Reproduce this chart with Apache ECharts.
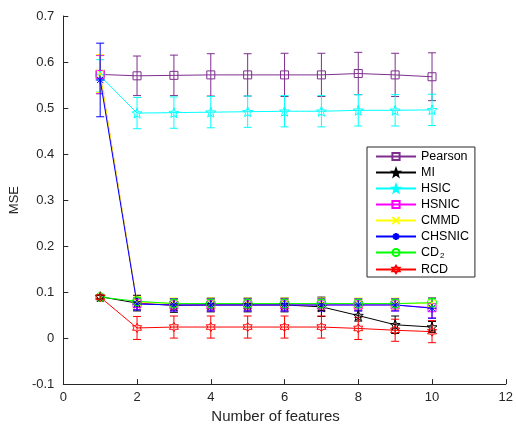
<!DOCTYPE html>
<html><head><meta charset="utf-8">
<script src="https://cdn.jsdelivr.net/npm/echarts@6/dist/echarts.min.js"></script>
<style>html,body{margin:0;padding:0;background:#fff}#c{width:516px;height:429px}</style>
</head><body><div id="c"></div>
<script>
// ---- data ----
const xs = [1, 2, 3, 4, 5, 6, 7, 8, 9, 10];
const names = ['Pearson', 'MI', 'HSIC', 'HSNIC', 'CMMD', 'CHSNIC', 'CD2', 'RCD'];
const pearson    = [0.573, 0.570, 0.571, 0.572, 0.572, 0.572, 0.572, 0.575, 0.572, 0.568];
const pearsonErr = [0.042, 0.043, 0.044, 0.046, 0.046, 0.047, 0.047, 0.046, 0.047, 0.052];
const mi         = [0.090, 0.076, 0.071, 0.072, 0.072, 0.072, 0.068, 0.049, 0.029, 0.024];
const miErr      = [0.004, 0.017, 0.015, 0.015, 0.015, 0.015, 0.021, 0.012, 0.019, 0.012];
const hsic       = [0.570, 0.489, 0.490, 0.491, 0.492, 0.493, 0.493, 0.495, 0.495, 0.496];
const hsicErr    = [0.035, 0.034, 0.034, 0.034, 0.034, 0.034, 0.034, 0.034, 0.034, 0.034];
const hsnic      = [0.573, 0.075, 0.072, 0.072, 0.072, 0.072, 0.072, 0.072, 0.072, 0.066];
const hsnicErr   = [0.041, 0.013, 0.013, 0.013, 0.013, 0.013, 0.013, 0.013, 0.013, 0.022];
const cmmd       = [0.575, 0.078, 0.075, 0.075, 0.075, 0.075, 0.075, 0.075, 0.075, 0.076];
const cmmdErr    = [0.041, 0.012, 0.012, 0.012, 0.012, 0.012, 0.012, 0.012, 0.012, 0.012];
const chsnic     = [0.561, 0.074, 0.072, 0.072, 0.072, 0.072, 0.072, 0.072, 0.072, 0.065];
const chsnicErr  = [0.080, 0.013, 0.013, 0.013, 0.013, 0.013, 0.013, 0.013, 0.013, 0.022];
const cd2        = [0.089, 0.080, 0.075, 0.075, 0.075, 0.075, 0.075, 0.075, 0.075, 0.077];
const cd2Err     = [0.004, 0.008, 0.008, 0.008, 0.008, 0.008, 0.008, 0.008, 0.008, 0.008];
const rcd        = [0.089, 0.022, 0.024, 0.024, 0.024, 0.024, 0.024, 0.021, 0.017, 0.014];
const rcdErr     = [0.004, 0.025, 0.024, 0.024, 0.024, 0.024, 0.024, 0.024, 0.024, 0.024];
const xTicks = [0, 2, 4, 6, 8, 10, 12];
const yTicks = [-0.1, 0, 0.1, 0.2, 0.3, 0.4, 0.5, 0.6, 0.7];

// ---- styles ----
function starPath(n, ro, ri) {
  let p = '';
  for (let k = 0; k < 2 * n; k++) {
    const r = k % 2 === 0 ? ro : ri;
    const a = -Math.PI / 2 + k * Math.PI / n;
    p += (k === 0 ? 'M' : 'L') + (5 + r * Math.cos(a)).toFixed(3) + ',' + (5 + r * Math.sin(a)).toFixed(3);
  }
  return 'path://' + p + 'Z';
}
const SYM = {
  square: 'path://M0,0L10,0L10,10L0,10Z',
  pent: starPath(5, 5, 2.1),
  hex: starPath(6, 5, 2.9),
  x: 'path://M0,0L10,10M10,0L0,10',
  ast: 'path://M5,0L5,10M0,5L10,5M1.5,1.5L8.5,8.5M8.5,1.5L1.5,8.5',
  circ: 'circle'
};
const specs = [
  {name: 'Pearson', v: pearson, e: pearsonErr, c: '#7E2F8E', s: SYM.square, sz: 8},
  {name: 'MI', v: mi, e: miErr, c: '#000000', s: SYM.pent, sz: 10},
  {name: 'HSIC', v: hsic, e: hsicErr, c: '#00FFFF', s: SYM.pent, sz: 10},
  {name: 'HSNIC', v: hsnic, e: hsnicErr, c: '#FF00FF', s: SYM.square, sz: 8},
  {name: 'CMMD', v: cmmd, e: cmmdErr, c: '#FFFF00', s: SYM.x, sz: 8},
  {name: 'CHSNIC', v: chsnic, e: chsnicErr, c: '#0000FF', s: SYM.ast, sz: 9},
  {name: 'CD2', v: cd2, e: cd2Err, c: '#00FF00', s: SYM.circ, sz: 9},
  {name: 'RCD', v: rcd, e: rcdErr, c: '#FF0000', s: SYM.hex, sz: 9}
];

function errRender(color) {
  return function (params, api) {
    const x = api.value(0), y = api.value(1), e = api.value(2);
    const t = api.coord([x, y + e]);
    const b = api.coord([x, y - e]);
    const hw = 4;
    const st = {stroke: color, lineWidth: 1, fill: null};
    return {type: 'group', children: [
      {type: 'line', shape: {x1: t[0], y1: t[1], x2: b[0], y2: b[1]}, style: st},
      {type: 'line', shape: {x1: t[0] - hw, y1: t[1], x2: t[0] + hw, y2: t[1]}, style: st},
      {type: 'line', shape: {x1: b[0] - hw, y1: b[1], x2: b[0] + hw, y2: b[1]}, style: st}
    ]};
  };
}

const series = [];
specs.forEach(sp => {
  series.push({
    type: 'custom', name: sp.name + '_err', silent: true,
    renderItem: errRender(sp.c),
    encode: {x: 0, y: 1},
    data: xs.map((x, i) => [x, sp.v[i], sp.e[i]])
  });
  series.push({
    type: 'line', name: sp.name, silent: true,
    symbol: sp.s, symbolSize: sp.sz, showAllSymbol: true,
    lineStyle: {color: sp.c, width: 1},
    itemStyle: {color: 'rgba(0,0,0,0)', borderColor: sp.c, borderWidth: 1},
    emphasis: {disabled: true},
    data: xs.map((x, i) => [x, sp.v[i]])
  });
});

const FONT = 'Liberation Sans, Arial, Helvetica, sans-serif';
const chart = echarts.init(document.getElementById('c'));
chart.setOption({
  animation: false,
  backgroundColor: '#fff',
  grid: {left: 62, right: 7, top: 16, bottom: 39, containLabel: false},
  xAxis: {
    type: 'value', min: xTicks[0], max: xTicks[xTicks.length - 1], interval: 2,
    name: 'Number of features', nameLocation: 'middle', nameGap: 22,
    nameTextStyle: {fontFamily: FONT, fontSize: 15, color: '#262626', padding: [0, 18, 0, 0]},
    axisLine: {show: true, onZero: false, lineStyle: {color: '#262626', width: 1}},
    axisTick: {show: true, inside: true, length: 5, lineStyle: {color: '#262626'}},
    axisLabel: {fontFamily: FONT, fontSize: 13, color: '#262626', margin: 7},
    splitLine: {show: false}
  },
  yAxis: {
    type: 'value', min: yTicks[0], max: yTicks[yTicks.length - 1], interval: 0.1,
    name: 'MSE', nameLocation: 'middle', nameGap: 37,
    nameTextStyle: {fontFamily: FONT, fontSize: 13, color: '#262626'},
    axisLine: {show: true, onZero: false, lineStyle: {color: '#262626', width: 1}},
    axisTick: {show: true, inside: true, length: 5, lineStyle: {color: '#262626'}},
    axisLabel: {fontFamily: FONT, fontSize: 13, color: '#262626', margin: 9,
      formatter: v => String(Math.round(v * 10) / 10)},
    splitLine: {show: false}
  },
  legend: {
    orient: 'vertical', left: 367, top: 147,
    data: names,
    itemWidth: 40, itemHeight: 9, itemGap: 3,
    padding: [3, 6, 1, 8],
    borderColor: '#262626', borderWidth: 1, backgroundColor: '#fff',
    selectedMode: false,
    textStyle: {fontFamily: FONT, fontSize: 12.5, color: '#000',
      rich: {sub: {fontFamily: FONT, fontSize: 8, padding: [7, 0, 0, 1], color: '#000'}}},
    formatter: n => n === 'CD2' ? 'CD{sub|2}' : n
  },
  series: series
});
</script></body></html>
